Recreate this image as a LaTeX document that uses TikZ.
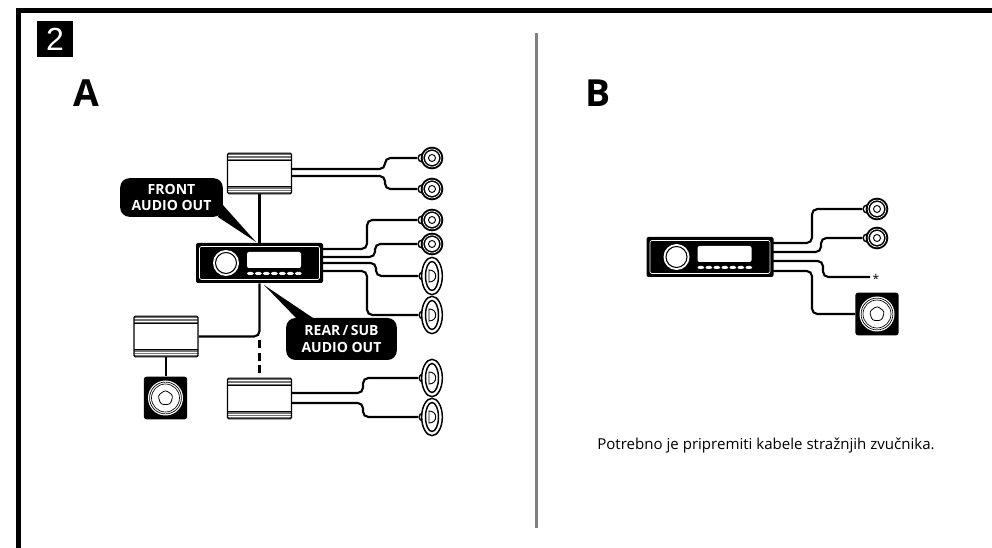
\documentclass[tikz,border=0pt]{standalone}
\usepackage{fontspec}
\setmainfont{Open Sans}
\newfontfamily\numfont{Liberation Sans}
\usepackage{tikz}
\usetikzlibrary{shapes.geometric}

\begin{document}
\begin{tikzpicture}[x=0.75pt,y=-0.75pt]
\tikzstyle{wire}=[line width=1.6pt, rounded corners=4pt]
\tikzstyle{frameline}=[line width=3.75pt]
\tikzstyle{letter}=[font=\fontsize{28}{28}\selectfont\bfseries, inner sep=0pt]
\tikzstyle{callout}=[rectangle, rounded corners=7pt, fill=black, text=white, align=center, inner sep=0pt, font=\fontsize{10.5}{12.3}\selectfont\bfseries]
\tikzstyle{amp}=[rectangle, draw=black, line width=0.8pt, rounded corners=1pt, fill=white, minimum width=48pt, minimum height=30.5pt, inner sep=0pt,
  path picture={\begin{scope}[shift={(path picture bounding box.center)}]
    \fill[black!55] (-33,-21) rectangle (33,-13);
    \draw[white, line width=0.6pt] (-33,-18) -- (33,-18);
    \draw[white, line width=0.6pt] (-33,-15.5) -- (33,-15.5);
    \draw[black, line width=0.8pt] (-33,-13) -- (33,-13);
    \fill[black!55] (-33,13) rectangle (33,21);
    \draw[white, line width=0.6pt] (-33,15.5) -- (33,15.5);
    \draw[white, line width=0.6pt] (-33,18) -- (33,18);
    \draw[black, line width=0.8pt] (-33,13) -- (33,13);
  \end{scope}}]
\tikzstyle{head}=[rectangle, rounded corners=1.5pt, fill=black, minimum width=95.25pt, minimum height=30pt, inner sep=0pt,
  path picture={\begin{scope}[shift={(path picture bounding box.center)}]
    \draw[white, line width=0.5pt, rounded corners=1.5pt] (-60,-16.5) rectangle (60,16.5);
    \fill[white] (-33.5,0) circle [radius=13];
    \draw[black, line width=0.8pt] (-33.5,0) circle [radius=10.5];
    \fill[white] (-12.5,-11) rectangle (41.5,5);
    \foreach \bx in {-12.5,-4.5,3.5,11.5,19.5,27.5,35.5} \fill[white] (\bx,9) rectangle ++(6.6,3);
  \end{scope}}]
\tikzstyle{ringspk}=[circle, fill=black, minimum size=17pt, inner sep=0pt,
  path picture={\begin{scope}[shift={(path picture bounding box.center)}]
    \draw[white, line width=0.5pt] (0,0) circle [radius=9];
    \fill[white] (0,0) circle [radius=7];
    \draw[black, line width=0.7pt] (0,0) circle [radius=3.5];
  \end{scope}}]
\tikzstyle{ovalspk}=[ellipse, draw=black, line width=1.1pt, fill=white, minimum width=15.5pt, minimum height=28pt, inner sep=0pt,
  path picture={\begin{scope}[shift={(path picture bounding box.center)}]
    \draw[black, line width=1.1pt] (0,0) ellipse [x radius=6.5, y radius=14.5];
    \draw[black, line width=0.7pt] (-3,-6) .. controls (6,-6) and (6,6) .. (-3,6) -- cycle;
  \end{scope}}]
\tikzstyle{bump}=[circle, fill=black, minimum size=7pt, inner sep=0pt,
  path picture={\fill[white] (path picture bounding box.center) circle [radius=3];}]
\tikzstyle{subwoof}=[rectangle, rounded corners=2pt, fill=black, minimum width=32.5pt, minimum height=32pt, inner sep=0pt,
  path picture={\begin{scope}[shift={(path picture bounding box.center)}]
    \fill[white] (0,0) circle [radius=17.5];
    \draw[black, line width=0.5pt] (0,0) circle [radius=15.9];
    \draw[black, line width=0.5pt] (0,0) circle [radius=14];
    \draw[black, line width=0.6pt] (-90:8) -- (-18:8) -- (54:8) -- (126:8) -- (198:8) -- cycle;
  \end{scope}}]
\useasboundingbox (0,0) rectangle (992,548);
% frame and divider
\coordinate (fbot) at (18.5,548);
\coordinate (fcor) at (18.5,10.5);
\coordinate (fend) at (992,10.5);
\draw[frameline] (fbot) -- (fcor) -- (fend);
\coordinate (dtop) at (536.5,33);
\coordinate (dbot) at (536.5,528);
\draw[black!50, line width=2.1pt] (dtop) -- (dbot);
\node[fill=black, text=white, minimum size=27pt, inner sep=0pt, font=\numfont\fontsize{24}{24}\selectfont] (num) at (55,39.5) {2};
\node[letter] (lettera) at (86,93) {A};
\node[letter] (letterb) at (598,93) {B};

% panel A
\coordinate (tipf) at (256,242);
\coordinate (tipr) at (264,285);
\fill (tipf) -- (222,204) -- (218,217) -- cycle;
\fill (tipr) -- (298,320) -- (316,320) -- cycle;
\node[callout, minimum width=77pt, minimum height=29pt] (callf) at (171.5,197.5) {FRONT\\AUDIO OUT};
\node[callout, minimum width=83pt, minimum height=31.5pt] (callr) at (341.5,339) {REAR\,/\,SUB\\AUDIO OUT};
\node[amp] (ampf) at (259.5,173.5) {};
\node[amp] (ampl) at (166,336.5) {};
\node[amp] (ampr) at (259.5,398.5) {};
\node[head] (heada) at (259.5,263) {};
\node[subwoof] (suba) at (165.5,398) {};
\node[bump] (bfa) at (422,158) {};
\node[bump] (bfb) at (422,189) {};
\node[bump] (bma) at (422,220) {};
\node[bump] (bmb) at (422,244) {};
\node[ringspk] (fa) at (432,158) {};
\node[ringspk] (fb) at (432,189) {};
\node[ringspk] (ma) at (432,220) {};
\node[ringspk] (mb) at (432,244) {};
\node[bump] (boa) at (423,276) {};
\node[ovalspk] (oa) at (432,276) {};
\node[bump] (bob) at (423,315) {};
\node[ovalspk] (ob) at (432,315) {};
\node[bump] (boc) at (423,378) {};
\node[ovalspk] (oc) at (432,378) {};
\node[bump] (bod) at (423,417) {};
\node[ovalspk] (od) at (432,417) {};
\draw[wire] (292,169) -- (385,169) -- (385,158) -- (bfa.west);
\draw[wire] (292,176) -- (385,176) -- (385,189) -- (bfb.west);
\draw[wire] (323,249) -- (367,249) -- (367,220) -- (bma.west);
\draw[wire] (323,257) -- (375,257) -- (375,244) -- (bmb.west);
\draw[wire] (323,263) -- (376,263) -- (376,276) -- (boa.west);
\draw[wire] (323,271) -- (367,271) -- (367,315) -- (bob.west);
\draw[wire] (291,393) -- (363,393) -- (363,378) -- (boc.west);
\draw[wire] (291,403) -- (363,403) -- (363,417) -- (bod.west);
\draw[wire] (ampf) -- (heada);
\draw[wire] (heada.south) -- (259.5,336.5) -- (ampl.east);
\draw[wire, dash pattern=on 6pt off 3.5pt] (259.5,340) -- (ampr.north);
\draw[wire] (ampl.south) -- (ampl.south |- suba.north);

% panel B
\node[head] (headb) at (710,257) {};
\node[subwoof] (subb) at (877,314) {};
\node[bump] (bsa) at (867,209) {};
\node[bump] (bsb) at (867,238) {};
\node[ringspk] (sa) at (877,209) {};
\node[ringspk] (sb) at (877,238) {};
\node[inner sep=0pt, font=\fontsize{9}{9}\selectfont] (star) at (876,279) {*};
\draw[wire] (773,243) -- (812,243) -- (812,209) -- (bsa.west);
\draw[wire] (773,252) -- (821,252) -- (821,238) -- (bsb.west);
\draw[wire] (773,261) -- (823,261) -- (823,277) -- (870,277);
\draw[wire] (773,271) -- (812,271) -- (812,314) -- (subb.west);
\node[inner sep=0pt, font=\fontsize{11.3}{13}\selectfont] (note) at (766,446) {Potrebno je pripremiti kabele stražnjih zvučnika.};
\end{tikzpicture}
\end{document}
